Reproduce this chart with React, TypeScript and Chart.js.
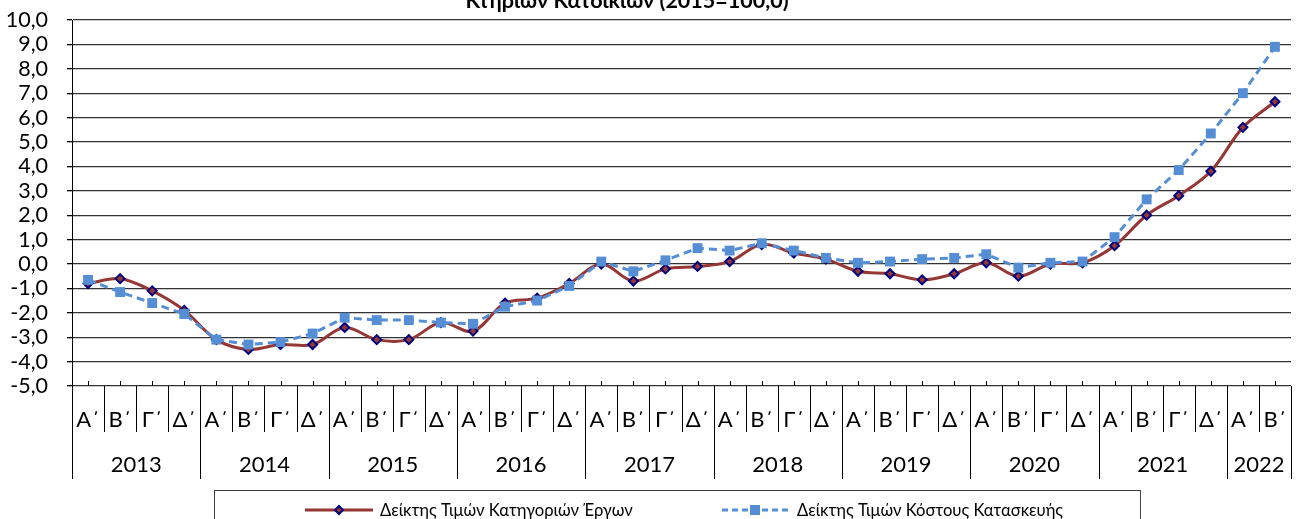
import React, { useEffect, useRef } from "react";
import { Chart, registerables } from "chart.js";

Chart.register(...registerables);

const years = ["2013", "2014", "2015", "2016", "2017", "2018", "2019", "2020", "2021", "2022"];
const quartersPerYear = [4, 4, 4, 4, 4, 4, 4, 4, 4, 2];
const quarterNames = ["Α΄", "Β΄", "Γ΄", "Δ΄"];

const categoryWorksIndex = [
  -0.8, -0.6, -1.1, -1.9,
  -3.1, -3.5, -3.3, -3.3,
  -2.6, -3.1, -3.1, -2.4,
  -2.75, -1.6, -1.4, -0.8,
  0.0, -0.7, -0.2, -0.1,
  0.1, 0.8, 0.45, 0.2,
  -0.3, -0.4, -0.65, -0.4,
  0.05, -0.5, 0.0, 0.05,
  0.75, 2.0, 2.8, 3.8,
  5.6, 6.65,
];

const constructionCostIndex = [
  -0.65, -1.15, -1.6, -2.05,
  -3.1, -3.3, -3.2, -2.85,
  -2.2, -2.3, -2.3, -2.4,
  -2.45, -1.75, -1.5, -0.9,
  0.1, -0.3, 0.15, 0.65,
  0.55, 0.85, 0.55, 0.25,
  0.05, 0.1, 0.2, 0.25,
  0.4, -0.15, 0.05, 0.1,
  1.1, 2.65, 3.85, 5.35,
  7.0, 8.9,
];

const seriesNames = ["Δείκτης Τιμών Κατηγοριών Έργων", "Δείκτης Τιμών Κόστους Κατασκευής"];
const titleText = "Κτηρίων Κατοικιών (2015=100,0)";

const categories: string[] = [];
years.forEach((y, yi) => {
  for (let q = 0; q < quartersPerYear[yi]; q++) categories.push(quarterNames[q]);
});

const RED = "#953735";
const NAVY = "#000080";
const BLUE = "#558ED5";
const FONT = "Lato, 'Open Sans', sans-serif";

const overlayPlugin = {
  id: "overlay",
  afterDraw(chart: any) {
    const ctx = chart.ctx as CanvasRenderingContext2D;
    const area = chart.chartArea;
    const xs = chart.scales.x;
    const n = categories.length;
    const w = (area.right - area.left) / n;
    ctx.save();
    ctx.strokeStyle = "#000";
    ctx.lineWidth = 1;
    for (let i = 0; i < n; i++) {
      const px = Math.round(xs.getPixelForValue(i)) + 0.5;
      ctx.beginPath();
      ctx.moveTo(px, area.bottom - 5);
      ctx.lineTo(px, area.bottom);
      ctx.stroke();
    }
    const yearBounds = new Set<number>();
    let acc = 0;
    yearBounds.add(0);
    quartersPerYear.forEach((c) => {
      acc += c;
      yearBounds.add(acc);
    });
    for (let i = 0; i <= n; i++) {
      const bx = Math.round(area.left + i * w) + 0.5;
      const len = yearBounds.has(i) ? 93 : 46;
      ctx.beginPath();
      ctx.moveTo(bx, area.bottom);
      ctx.lineTo(bx, area.bottom + len);
      ctx.stroke();
    }
    ctx.fillStyle = "#000";
    ctx.font = `22px ${FONT}`;
    ctx.textAlign = "center";
    ctx.textBaseline = "middle";
    for (let i = 0; i < n; i++) {
      ctx.fillText(categories[i], xs.getPixelForValue(i), area.bottom + 34);
    }
    acc = 0;
    years.forEach((y, yi) => {
      const x0 = area.left + acc * w;
      acc += quartersPerYear[yi];
      const x1 = area.left + acc * w;
      ctx.fillText(y, (x0 + x1) / 2, area.bottom + 79);
    });
    ctx.font = `bold 21.5px ${FONT}`;
    ctx.textBaseline = "alphabetic";
    ctx.fillText(titleText, 627, 8);
    ctx.strokeStyle = "#404040";
    ctx.lineWidth = 1;
    ctx.strokeRect(214.5, 490.5, 926, 40);
    const ly = 510;
    ctx.strokeStyle = RED;
    ctx.lineWidth = 3;
    ctx.beginPath();
    ctx.moveTo(305, ly);
    ctx.lineTo(373, ly);
    ctx.stroke();
    ctx.beginPath();
    ctx.moveTo(339, ly - 4);
    ctx.lineTo(343, ly);
    ctx.lineTo(339, ly + 4);
    ctx.lineTo(335, ly);
    ctx.closePath();
    ctx.fillStyle = RED;
    ctx.fill();
    ctx.strokeStyle = NAVY;
    ctx.lineWidth = 2;
    ctx.stroke();
    ctx.fillStyle = "#000";
    ctx.font = `16.6px ${FONT}`;
    ctx.textAlign = "left";
    ctx.textBaseline = "middle";
    ctx.fillText(seriesNames[0], 380, ly + 1);
    ctx.strokeStyle = BLUE;
    ctx.lineWidth = 3;
    ctx.setLineDash([6, 4]);
    ctx.beginPath();
    ctx.moveTo(722, ly);
    ctx.lineTo(790, ly);
    ctx.stroke();
    ctx.setLineDash([]);
    ctx.fillStyle = BLUE;
    ctx.fillRect(750, ly - 5, 10, 10);
    ctx.fillStyle = "#000";
    ctx.fillText(seriesNames[1], 797, ly + 1);
    ctx.restore();
  },
};

export default function App() {
  const ref = useRef<HTMLCanvasElement>(null);
  useEffect(() => {
    document.body.style.margin = "0";
    const canvas = ref.current!;
    const chart = new Chart(canvas, {
      type: "line",
      data: {
        labels: categories,
        datasets: [
          {
            label: seriesNames[0],
            data: categoryWorksIndex,
            borderColor: RED,
            borderWidth: 3,
            tension: 0.35,
            pointStyle: "rectRot",
            pointRadius: 4.5,
            pointBackgroundColor: RED,
            pointBorderColor: NAVY,
            pointBorderWidth: 2,
            order: 2,
          },
          {
            label: seriesNames[1],
            data: constructionCostIndex,
            borderColor: BLUE,
            borderWidth: 3,
            borderDash: [8, 5],
            tension: 0,
            pointStyle: "rect",
            pointRadius: 7,
            pointBackgroundColor: BLUE,
            pointBorderColor: BLUE,
            pointBorderWidth: 0,
            order: 1,
          },
        ],
      },
      options: {
        responsive: false,
        animation: false,
        layout: { padding: { top: 20, left: 0, right: 1, bottom: 0 } },
        plugins: { legend: { display: false }, title: { display: false }, tooltip: { enabled: false } },
        scales: {
          x: {
            type: "category",
            offset: true,
            grid: { display: false },
            border: { display: false },
            ticks: { display: false },
            afterFit: (s: any) => {
              s.height = 133;
              s.paddingLeft = 0;
              s.paddingRight = 0;
            },
          },
          y: {
            min: -5,
            max: 10,
            ticks: {
              stepSize: 1,
              autoSkip: false,
              padding: 19,
              color: "#000",
              font: { family: FONT, size: 21.5 },
              callback: (v: any) => Number(v).toFixed(1).replace(".", ","),
            },
            grid: { color: "#333", lineWidth: 1.3, tickLength: 5, tickColor: "#000" },
            border: { display: true, color: "#000", width: 1 },
            afterFit: (s: any) => {
              s.width = 72;
              s.paddingTop = 0;
              s.paddingBottom = 0;
            },
          },
        },
      },
      plugins: [overlayPlugin],
    });
    return () => chart.destroy();
  }, []);
  return (
    <div style={{ position: "absolute", left: 0, top: 0 }}>
      <canvas ref={ref} width={1298} height={519} style={{ width: 1298, height: 519 }} />
    </div>
  );
}
